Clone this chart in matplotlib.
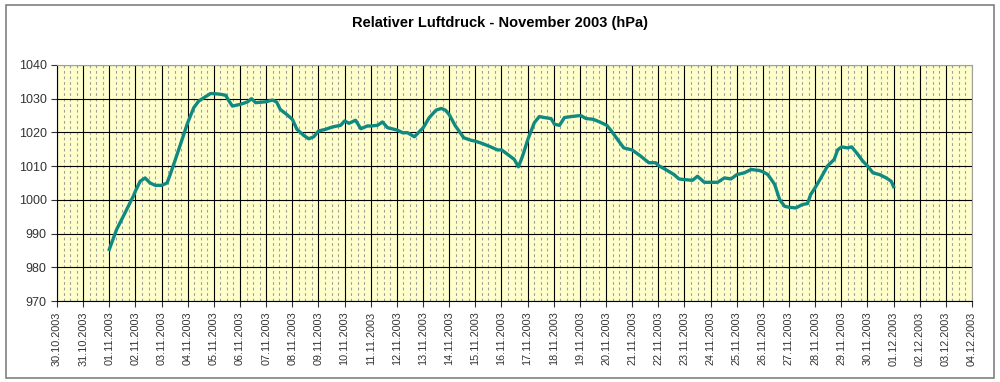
import numpy as np, pandas as pd, matplotlib; matplotlib.use('Agg')
import matplotlib.pyplot as plt, matplotlib.dates as mdates
from matplotlib.patches import Rectangle
plt.rcParams['font.family']=['Liberation Sans','DejaVu Sans']

# days since 01.11.2003 00:00, pressure in hPa
days=[0.0,0.28,0.60,0.92,1.0,1.18,1.37,1.56,1.76,2.0,2.21,2.33,2.53,2.72,3.0,3.23,3.42,3.62,3.87,4.0,
      4.26,4.45,4.58,4.71,5.0,5.28,5.44,5.60,6.0,6.24,6.40,6.54,6.79,7.0,7.18,7.44,7.63,7.82,8.0,8.27,
      8.53,8.85,9.0,9.17,9.42,9.62,9.87,10.01,10.26,10.45,10.64,11.01,11.22,11.41,11.67,12.01,12.24,12.5,12.7,12.86,
      13.0,13.24,13.56,13.82,14.0,14.27,14.59,14.85,15.01,15.23,15.49,15.65,15.81,16.01,16.26,16.45,16.64,16.9,17.03,17.22,
      17.41,17.67,18.03,18.24,18.5,18.76,19.03,19.21,19.44,19.68,20.0,20.32,20.64,20.9,21.0,21.28,21.6,21.79,22.0,22.31,
      22.5,22.76,23.01,23.27,23.53,23.78,24.01,24.29,24.55,24.87,25.03,25.19,25.45,25.64,25.83,26.0,26.26,26.51,26.71,26.83,
      27.0,27.22,27.47,27.73,27.86,28.01,28.24,28.4,28.63,28.82,29.01,29.21,29.46,29.72,29.91,30.0]
hpa=[985.3,991.2,996.1,1001.1,1002.6,1005.5,1006.5,1005.0,1004.3,1004.3,1005.0,1007.5,1012.0,1016.4,1022.9,1027.3,1029.3,1030.3,1031.5,1031.5,
     1031.3,1031.0,1029.3,1027.8,1028.3,1029.0,1030.0,1028.8,1029.1,1029.6,1029.0,1026.8,1025.3,1023.9,1020.9,1019.1,1018.1,1018.7,1020.4,1020.9,
     1021.6,1022.1,1023.4,1022.7,1023.6,1021.1,1021.9,1021.9,1022.1,1023.1,1021.4,1020.7,1019.9,1019.9,1018.7,1021.4,1024.4,1026.6,1027.1,1026.6,
     1025.3,1021.9,1018.4,1017.7,1017.4,1016.7,1015.7,1014.8,1014.8,1013.5,1012.0,1009.8,1013.0,1017.9,1022.9,1024.7,1024.4,1024.1,1022.4,1022.1,
     1024.4,1024.7,1025.0,1024.1,1023.9,1023.1,1022.1,1020.4,1017.9,1015.4,1014.8,1013.0,1011.0,1011.0,1010.2,1009.0,1007.5,1006.2,1006.0,1005.8,
     1007.0,1005.2,1005.2,1005.2,1006.5,1006.2,1007.5,1008.0,1009.0,1008.7,1008.2,1007.5,1004.6,1000.1,998.1,997.8,997.6,998.6,998.9,1001.6,
     1003.6,1006.5,1010.0,1012.0,1014.8,1015.7,1015.4,1015.7,1013.5,1011.5,1010.0,1008.0,1007.5,1006.5,1005.5,1003.9]

t=pd.Timestamp('2003-11-01')+pd.to_timedelta(days,unit='D')

fig=plt.figure(figsize=(10,3.82),dpi=100)
fig.patches.append(Rectangle((0.006,0.01),0.988,0.978,transform=fig.transFigure,fill=False,ec='#808080',lw=1.2))
ax=fig.add_axes([0.057,0.212,0.915,0.618])
ax.set_facecolor('#ffffcc')
ax.plot(t,hpa,color='#108a80',lw=2.4,zorder=3)
ax.set_xlim(pd.Timestamp('2003-10-30'),pd.Timestamp('2003-12-04'))
ax.set_ylim(970,1040); ax.set_yticks(range(970,1041,10))
ax.xaxis.set_major_locator(mdates.DayLocator())
ax.xaxis.set_major_formatter(mdates.DateFormatter('%d.%m.%Y'))
ax.xaxis.set_minor_locator(mdates.HourLocator(byhour=[6,12,18]))
ax.grid(which='major',color='black',lw=0.8,zorder=1)
ax.grid(which='minor',axis='x',color='#a0a098',lw=0.8,ls=(0,(2.5,2.5)),zorder=0)
ax.tick_params(axis='x',which='major',rotation=90,labelsize=7.8,length=4,colors='#333333')
ax.tick_params(axis='x',which='minor',length=0)
ax.tick_params(axis='y',labelsize=9,length=4,colors='#333333')
for s in ax.spines.values(): s.set_color('#a0a0a0')
ax.spines['left'].set_color('black'); ax.spines['bottom'].set_color('black')
fig.text(0.5,0.94,'Relativer Luftdruck - November 2003 (hPa)',ha='center',va='center',fontsize=10.5,fontweight='bold')
fig.savefig('out.png',dpi=100)
